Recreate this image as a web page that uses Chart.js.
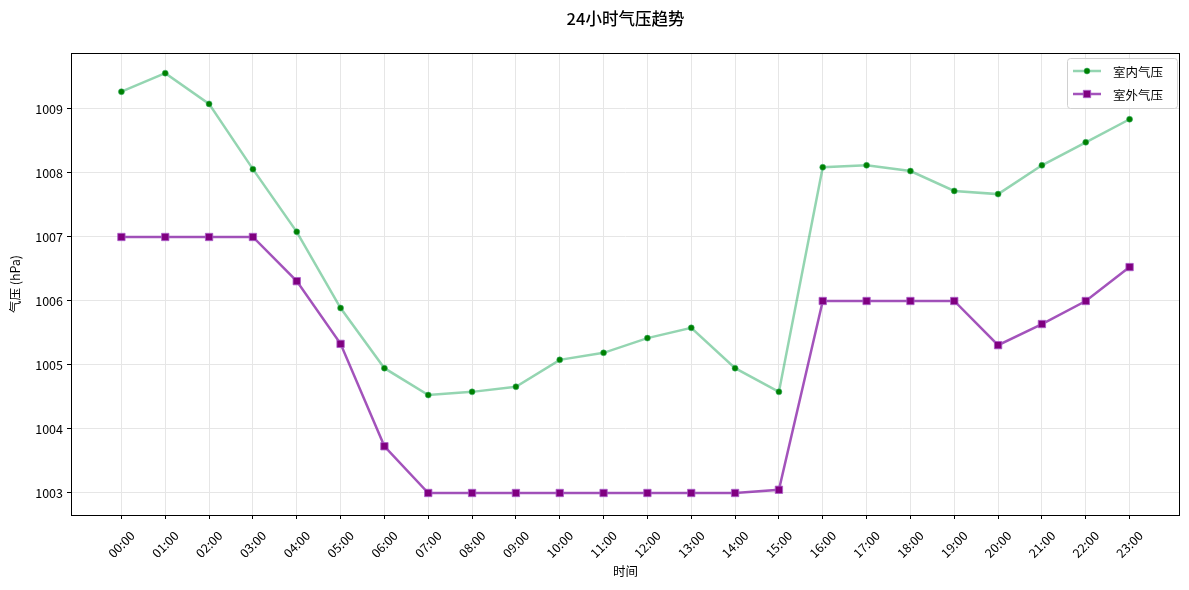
<!DOCTYPE html>
<html>
<head>
<meta charset="utf-8">
<title>24小时气压趋势</title>
<script src="https://cdn.jsdelivr.net/npm/chart.js@4.4.0/dist/chart.umd.min.js"></script>
<style>
  html, body { margin: 0; padding: 0; background: #fff; }
  #wrap { width: 1189px; height: 590px; position: relative; }
</style>
</head>
<body>
<div id="wrap"><canvas id="myChart"></canvas></div>
<script>
  const hours = ["00:00","01:00","02:00","03:00","04:00","05:00","06:00","07:00","08:00","09:00","10:00","11:00",
                 "12:00","13:00","14:00","15:00","16:00","17:00","18:00","19:00","20:00","21:00","22:00","23:00"]
  const indoor = [1009.27, 1009.56, 1009.08, 1008.06, 1007.08, 1005.89, 1004.95, 1004.53, 1004.58, 1004.66, 1005.08, 1005.19,
                  1005.42, 1005.58, 1004.95, 1004.58, 1008.09, 1008.12, 1008.03, 1007.72, 1007.67, 1008.12, 1008.48, 1008.84]
  const outdoor = [1007.0, 1007.0, 1007.0, 1007.0, 1006.31, 1005.33, 1003.73, 1003.0, 1003.0, 1003.0, 1003.0, 1003.0,
                   1003.0, 1003.0, 1003.0, 1003.05, 1006.0, 1006.0, 1006.0, 1006.0, 1005.31, 1005.64, 1006.0, 1006.53]
  const yTicks = [1003, 1004, 1005, 1006, 1007, 1008, 1009]

  const FONT = "'Noto Sans CJK SC', 'DejaVu Sans', sans-serif"
  Chart.defaults.font.family = FONT
  Chart.defaults.color = "#000"

  const greenLine = "rgba(60,179,113,0.55)"
  const purpleLine = "rgba(140,40,170,0.8)"

  function toPoints(arr) {
    return arr.map((v, i) => ({ x: i, y: v }))
  }

  // 标题、边框和图例自己画
  const extras = {
    id: "extras",
    afterDraw(chart) {
      const ctx = chart.ctx
      const a = chart.chartArea
      ctx.save()
      ctx.strokeStyle = "#000"
      ctx.lineWidth = 1
      ctx.strokeRect(Math.round(a.left) + 0.5, Math.round(a.top) + 0.5,
                     Math.round(a.right - a.left) - 1, Math.round(a.bottom - a.top))

      ctx.fillStyle = "#000"
      ctx.font = "500 16.5px " + FONT
      ctx.textAlign = "center"
      ctx.textBaseline = "middle"
      ctx.fillText("24小时气压趋势", (a.left + a.right) / 2, 19)

      // legend
      const bx = a.right - 113, by = a.top + 5, bw = 110, bh = 50
      ctx.fillStyle = "rgba(255,255,255,0.8)"
      ctx.strokeStyle = "#d0d0d0"
      ctx.lineWidth = 1
      ctx.beginPath()
      ctx.roundRect(bx + 0.5, by + 0.5, bw, bh, 3)
      ctx.fill()
      ctx.stroke()
      ctx.font = "12.5px " + FONT
      ctx.textAlign = "left"
      chart.data.datasets.forEach((ds, i) => {
        const y = by + 13 + i * 23
        ctx.strokeStyle = ds.borderColor
        ctx.lineWidth = ds.borderWidth
        ctx.beginPath()
        ctx.moveTo(bx + 6, y)
        ctx.lineTo(bx + 34, y)
        ctx.stroke()
        ctx.fillStyle = ds.pointBackgroundColor
        ctx.strokeStyle = ds.pointBorderColor
        ctx.lineWidth = ds.pointBorderWidth
        ctx.beginPath()
        if (ds.pointStyle === "rect") {
          const s = Math.SQRT1_2 * ds.pointRadius
          ctx.rect(bx + 20 - s, y - s, 2 * s, 2 * s)
        } else {
          ctx.arc(bx + 20, y, ds.pointRadius, 0, Math.PI * 2)
        }
        ctx.fill()
        ctx.stroke()
        ctx.fillStyle = "#000"
        ctx.fillText(ds.label, bx + 46, y + 1)
      })
      ctx.restore()
    }
  }

  const ctxChart = document.getElementById("myChart")
  new Chart(ctxChart, {
    type: "line",
    data: {
      datasets: [
        {
          label: "室内气压",
          data: toPoints(indoor),
          borderColor: greenLine,
          borderWidth: 2.5,
          pointStyle: "circle",
          pointRadius: 3,
          pointBackgroundColor: "green",
          pointBorderColor: greenLine,
          pointBorderWidth: 1,
          tension: 0
        },
        {
          label: "室外气压",
          data: toPoints(outdoor),
          borderColor: purpleLine,
          borderWidth: 2.5,
          pointStyle: "rect",
          pointRadius: 5.2,
          pointBackgroundColor: "purple",
          pointBorderColor: "rgba(170,90,200,0.8)",
          pointBorderWidth: 1,
          tension: 0
        }
      ]
    },
    options: {
      responsive: true,
      maintainAspectRatio: false,
      animation: false,
      layout: { padding: { top: 53, right: 9, left: 0, bottom: 0 } },
      plugins: {
        legend: { display: false },
        title: { display: false },
        tooltip: { enabled: false }
      },
      scales: {
        x: {
          type: "linear",
          min: -1.15,
          max: 24.15,
          afterBuildTicks: scale => { scale.ticks = hours.map((h, i) => ({ value: i })) },
          afterFit: scale => { scale.height = 75 },
          ticks: {
            callback: v => hours[v],
            minRotation: 45,
            maxRotation: 45,
            autoSkip: false,
            padding: 9,
            labelOffset: 11,
            font: { size: 12.5 }
          },
          grid: { color: "#e6e6e6", tickColor: "#000", tickLength: 4 },
          border: { display: false },
          title: { display: true, text: "时间", font: { size: 12.5 }, padding: { top: 0, bottom: 11 } }
        },
        y: {
          min: 1002.656,
          max: 1009.875,
          afterBuildTicks: scale => { scale.ticks = yTicks.map(v => ({ value: v })) },
          afterFit: scale => { scale.width = 71 },
          ticks: { padding: 4, font: { size: 12.5 }, callback: v => String(v) },
          grid: { color: "#e6e6e6", tickColor: "#000", tickLength: 4 },
          border: { display: false },
          title: { display: true, text: "气压 (hPa)", font: { size: 12.5 }, padding: { top: 8, bottom: 4 } }
        }
      }
    },
    plugins: [extras]
  })
</script>
</body>
</html>
